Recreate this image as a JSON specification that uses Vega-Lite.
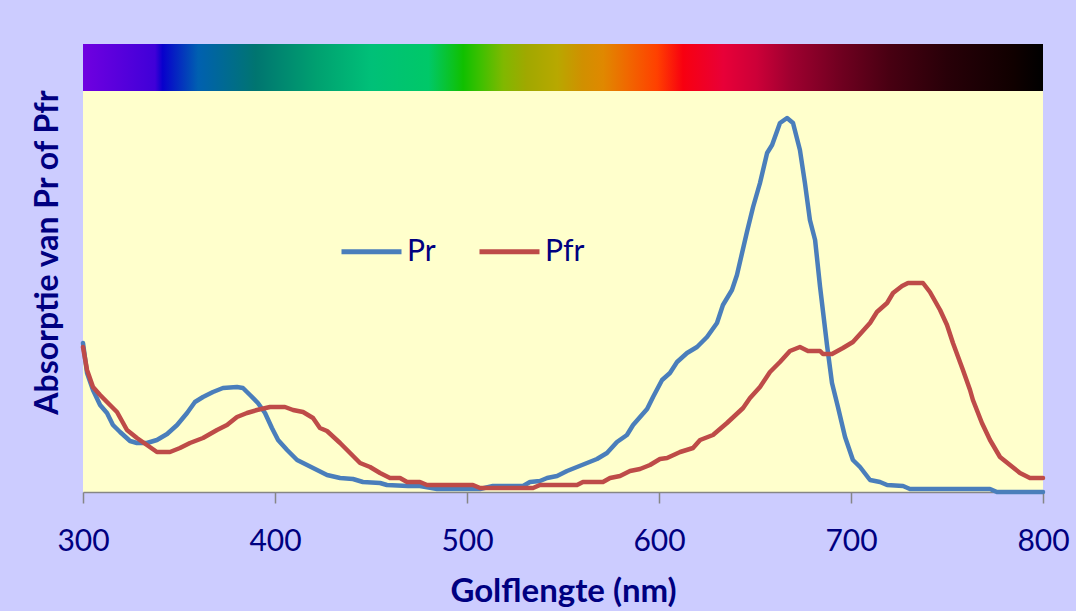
{
  "$schema": "https://vega.github.io/schema/vega-lite/v6.json",
  "width": 960,
  "height": 448,
  "autosize": "none",
  "padding": {"left": 83, "top": 44, "right": 33, "bottom": 119},
  "background": "#CCCCFF",
  "config": {
    "view": {"stroke": null, "fill": "#FFFFCC"},
    "font": "Lato"
  },
  "datasets": {
    "spectra": [
      {"nm": 300, "A": 149, "s": "Pr"}, {"nm": 302.1, "A": 119, "s": "Pr"}, {"nm": 305.2, "A": 102, "s": "Pr"}, {"nm": 308.9, "A": 87, "s": "Pr"},
      {"nm": 312.5, "A": 79, "s": "Pr"}, {"nm": 315.6, "A": 67, "s": "Pr"}, {"nm": 319.3, "A": 60, "s": "Pr"}, {"nm": 324.5, "A": 51, "s": "Pr"},
      {"nm": 328.1, "A": 49, "s": "Pr"}, {"nm": 333.3, "A": 49, "s": "Pr"}, {"nm": 338.5, "A": 52, "s": "Pr"}, {"nm": 343.8, "A": 58, "s": "Pr"},
      {"nm": 349, "A": 67, "s": "Pr"}, {"nm": 354.2, "A": 79, "s": "Pr"}, {"nm": 358.3, "A": 90, "s": "Pr"}, {"nm": 362.5, "A": 95, "s": "Pr"},
      {"nm": 367.7, "A": 100, "s": "Pr"}, {"nm": 372.9, "A": 104, "s": "Pr"}, {"nm": 380.2, "A": 105, "s": "Pr"}, {"nm": 383.3, "A": 104, "s": "Pr"},
      {"nm": 387, "A": 97, "s": "Pr"}, {"nm": 391.1, "A": 89, "s": "Pr"}, {"nm": 394.8, "A": 79, "s": "Pr"}, {"nm": 398.4, "A": 64, "s": "Pr"},
      {"nm": 401.6, "A": 52, "s": "Pr"}, {"nm": 406.3, "A": 42, "s": "Pr"}, {"nm": 411.5, "A": 32, "s": "Pr"}, {"nm": 416.7, "A": 27, "s": "Pr"},
      {"nm": 421.9, "A": 22, "s": "Pr"}, {"nm": 427.1, "A": 17, "s": "Pr"}, {"nm": 433.9, "A": 14, "s": "Pr"}, {"nm": 440.6, "A": 13, "s": "Pr"},
      {"nm": 445.8, "A": 10, "s": "Pr"}, {"nm": 454.7, "A": 9, "s": "Pr"}, {"nm": 458.3, "A": 7, "s": "Pr"}, {"nm": 469.3, "A": 6, "s": "Pr"},
      {"nm": 475.5, "A": 6, "s": "Pr"}, {"nm": 484.4, "A": 3, "s": "Pr"}, {"nm": 506.8, "A": 3, "s": "Pr"}, {"nm": 513.5, "A": 6, "s": "Pr"},
      {"nm": 529.2, "A": 6, "s": "Pr"}, {"nm": 532.8, "A": 10, "s": "Pr"}, {"nm": 538, "A": 11, "s": "Pr"}, {"nm": 541.7, "A": 14, "s": "Pr"},
      {"nm": 546.9, "A": 16, "s": "Pr"}, {"nm": 552.1, "A": 21, "s": "Pr"}, {"nm": 557.3, "A": 25, "s": "Pr"}, {"nm": 562.5, "A": 29, "s": "Pr"},
      {"nm": 567.7, "A": 33, "s": "Pr"}, {"nm": 572.9, "A": 39, "s": "Pr"}, {"nm": 578.1, "A": 50, "s": "Pr"}, {"nm": 583.3, "A": 57, "s": "Pr"},
      {"nm": 586.5, "A": 67, "s": "Pr"}, {"nm": 593.8, "A": 83, "s": "Pr"}, {"nm": 596.9, "A": 95, "s": "Pr"}, {"nm": 601.6, "A": 112, "s": "Pr"},
      {"nm": 605.7, "A": 119, "s": "Pr"}, {"nm": 609.4, "A": 130, "s": "Pr"}, {"nm": 614.6, "A": 139, "s": "Pr"}, {"nm": 619.8, "A": 145, "s": "Pr"},
      {"nm": 625, "A": 155, "s": "Pr"}, {"nm": 630.2, "A": 169, "s": "Pr"}, {"nm": 633.3, "A": 187, "s": "Pr"}, {"nm": 638, "A": 202, "s": "Pr"},
      {"nm": 640.6, "A": 217, "s": "Pr"}, {"nm": 645.8, "A": 260, "s": "Pr"}, {"nm": 649, "A": 285, "s": "Pr"}, {"nm": 652.6, "A": 309, "s": "Pr"},
      {"nm": 656.3, "A": 339, "s": "Pr"}, {"nm": 658.9, "A": 347, "s": "Pr"}, {"nm": 663, "A": 369, "s": "Pr"}, {"nm": 666.7, "A": 374, "s": "Pr"},
      {"nm": 669.8, "A": 369, "s": "Pr"}, {"nm": 673.4, "A": 342, "s": "Pr"}, {"nm": 676, "A": 309, "s": "Pr"}, {"nm": 678.6, "A": 272, "s": "Pr"},
      {"nm": 681.3, "A": 252, "s": "Pr"}, {"nm": 683.9, "A": 205, "s": "Pr"}, {"nm": 687.5, "A": 147, "s": "Pr"}, {"nm": 690.1, "A": 109, "s": "Pr"},
      {"nm": 693.2, "A": 85, "s": "Pr"}, {"nm": 696.9, "A": 55, "s": "Pr"}, {"nm": 701, "A": 32, "s": "Pr"}, {"nm": 704.7, "A": 25, "s": "Pr"},
      {"nm": 709.9, "A": 12, "s": "Pr"}, {"nm": 715.1, "A": 10, "s": "Pr"}, {"nm": 718.8, "A": 7, "s": "Pr"}, {"nm": 727.1, "A": 6, "s": "Pr"},
      {"nm": 730.7, "A": 3, "s": "Pr"}, {"nm": 772.4, "A": 3, "s": "Pr"}, {"nm": 776, "A": 0, "s": "Pr"}, {"nm": 800, "A": 0, "s": "Pr"},

      {"nm": 300, "A": 145, "s": "Pfr"}, {"nm": 302.1, "A": 122, "s": "Pfr"}, {"nm": 305.2, "A": 105, "s": "Pfr"}, {"nm": 308.9, "A": 97, "s": "Pfr"},
      {"nm": 312.5, "A": 90, "s": "Pfr"}, {"nm": 317.7, "A": 80, "s": "Pfr"}, {"nm": 322.9, "A": 62, "s": "Pfr"}, {"nm": 328.1, "A": 54, "s": "Pfr"},
      {"nm": 333.3, "A": 47, "s": "Pfr"}, {"nm": 338.5, "A": 40, "s": "Pfr"}, {"nm": 345.3, "A": 40, "s": "Pfr"}, {"nm": 350.5, "A": 44, "s": "Pfr"},
      {"nm": 355.7, "A": 49, "s": "Pfr"}, {"nm": 362.5, "A": 54, "s": "Pfr"}, {"nm": 369.8, "A": 62, "s": "Pfr"}, {"nm": 375, "A": 67, "s": "Pfr"},
      {"nm": 380.2, "A": 75, "s": "Pfr"}, {"nm": 385.4, "A": 79, "s": "Pfr"}, {"nm": 390.6, "A": 82, "s": "Pfr"}, {"nm": 397.4, "A": 85, "s": "Pfr"},
      {"nm": 405.2, "A": 85, "s": "Pfr"}, {"nm": 409.4, "A": 82, "s": "Pfr"}, {"nm": 414.6, "A": 80, "s": "Pfr"}, {"nm": 419.8, "A": 74, "s": "Pfr"},
      {"nm": 423.4, "A": 64, "s": "Pfr"}, {"nm": 427.1, "A": 61, "s": "Pfr"}, {"nm": 433.9, "A": 49, "s": "Pfr"}, {"nm": 439.1, "A": 39, "s": "Pfr"},
      {"nm": 444.3, "A": 29, "s": "Pfr"}, {"nm": 449.5, "A": 25, "s": "Pfr"}, {"nm": 454.7, "A": 19, "s": "Pfr"}, {"nm": 459.9, "A": 14, "s": "Pfr"},
      {"nm": 465.1, "A": 14, "s": "Pfr"}, {"nm": 468.8, "A": 10, "s": "Pfr"}, {"nm": 475.5, "A": 10, "s": "Pfr"}, {"nm": 479.2, "A": 7, "s": "Pfr"},
      {"nm": 503.1, "A": 7, "s": "Pfr"}, {"nm": 506.8, "A": 4, "s": "Pfr"}, {"nm": 534.4, "A": 4, "s": "Pfr"}, {"nm": 538, "A": 7, "s": "Pfr"},
      {"nm": 557.3, "A": 7, "s": "Pfr"}, {"nm": 560.4, "A": 10, "s": "Pfr"}, {"nm": 570.8, "A": 10, "s": "Pfr"}, {"nm": 574.5, "A": 14, "s": "Pfr"},
      {"nm": 579.7, "A": 16, "s": "Pfr"}, {"nm": 584.9, "A": 21, "s": "Pfr"}, {"nm": 590.1, "A": 23, "s": "Pfr"}, {"nm": 595.3, "A": 27, "s": "Pfr"},
      {"nm": 600.5, "A": 33, "s": "Pfr"}, {"nm": 604.2, "A": 34, "s": "Pfr"}, {"nm": 611, "A": 40, "s": "Pfr"}, {"nm": 617.7, "A": 44, "s": "Pfr"},
      {"nm": 621.4, "A": 52, "s": "Pfr"}, {"nm": 628.1, "A": 57, "s": "Pfr"}, {"nm": 635.4, "A": 69, "s": "Pfr"}, {"nm": 643.8, "A": 84, "s": "Pfr"},
      {"nm": 647.4, "A": 94, "s": "Pfr"}, {"nm": 652.6, "A": 105, "s": "Pfr"}, {"nm": 657.8, "A": 120, "s": "Pfr"}, {"nm": 663, "A": 130, "s": "Pfr"},
      {"nm": 668.2, "A": 141, "s": "Pfr"}, {"nm": 673.4, "A": 145, "s": "Pfr"}, {"nm": 677.6, "A": 141, "s": "Pfr"}, {"nm": 683.9, "A": 141, "s": "Pfr"},
      {"nm": 685.4, "A": 138, "s": "Pfr"}, {"nm": 690.1, "A": 138, "s": "Pfr"}, {"nm": 695.8, "A": 144, "s": "Pfr"}, {"nm": 701, "A": 150, "s": "Pfr"},
      {"nm": 705.7, "A": 160, "s": "Pfr"}, {"nm": 709.9, "A": 169, "s": "Pfr"}, {"nm": 713.5, "A": 180, "s": "Pfr"}, {"nm": 718.8, "A": 189, "s": "Pfr"},
      {"nm": 721.9, "A": 199, "s": "Pfr"}, {"nm": 726.6, "A": 206, "s": "Pfr"}, {"nm": 729.7, "A": 209, "s": "Pfr"}, {"nm": 737.5, "A": 209, "s": "Pfr"},
      {"nm": 741.1, "A": 200, "s": "Pfr"}, {"nm": 746.4, "A": 182, "s": "Pfr"}, {"nm": 750, "A": 167, "s": "Pfr"}, {"nm": 753.1, "A": 149, "s": "Pfr"},
      {"nm": 758.3, "A": 122, "s": "Pfr"}, {"nm": 762, "A": 102, "s": "Pfr"}, {"nm": 763.5, "A": 92, "s": "Pfr"}, {"nm": 768.2, "A": 69, "s": "Pfr"},
      {"nm": 772.4, "A": 52, "s": "Pfr"}, {"nm": 777.6, "A": 35, "s": "Pfr"}, {"nm": 782.8, "A": 27, "s": "Pfr"}, {"nm": 788, "A": 19, "s": "Pfr"},
      {"nm": 793.2, "A": 14, "s": "Pfr"}, {"nm": 800, "A": 14, "s": "Pfr"}
    ],
    "band": [{"from": 300, "to": 800, "lo": 401, "hi": 448}]
  },
  "layer": [
    {
      "data": {"name": "band"},
      "mark": {
        "type": "rect",
        "fill": {
          "gradient": "linear", "x1": 0, "y1": 0, "x2": 1, "y2": 0,
          "stops": [
            {"offset": 0, "color": "#7000E0"},
            {"offset": 0.075, "color": "#4000D8"},
            {"offset": 0.083, "color": "#0800CC"},
            {"offset": 0.12, "color": "#0060B0"},
            {"offset": 0.18, "color": "#007570"},
            {"offset": 0.243, "color": "#00A070"},
            {"offset": 0.30, "color": "#00C078"},
            {"offset": 0.36, "color": "#00C868"},
            {"offset": 0.396, "color": "#10C000"},
            {"offset": 0.415, "color": "#40C000"},
            {"offset": 0.438, "color": "#80B800"},
            {"offset": 0.462, "color": "#A0A800"},
            {"offset": 0.494, "color": "#B8A800"},
            {"offset": 0.52, "color": "#D09000"},
            {"offset": 0.542, "color": "#E08800"},
            {"offset": 0.567, "color": "#F06800"},
            {"offset": 0.598, "color": "#FF4000"},
            {"offset": 0.625, "color": "#F80010"},
            {"offset": 0.667, "color": "#E80038"},
            {"offset": 0.702, "color": "#CC0038"},
            {"offset": 0.736, "color": "#A00030"},
            {"offset": 0.789, "color": "#700020"},
            {"offset": 0.84, "color": "#480012"},
            {"offset": 0.9, "color": "#280008"},
            {"offset": 0.969, "color": "#100000"},
            {"offset": 1, "color": "#000000"}
          ]
        }
      },
      "encoding": {
        "x": {"field": "from", "type": "quantitative"},
        "x2": {"field": "to"},
        "y": {"field": "lo", "type": "quantitative"},
        "y2": {"field": "hi"}
      }
    },
    {
      "data": {"name": "spectra"},
      "mark": {"type": "line", "strokeWidth": 4.5, "strokeJoin": "round", "strokeCap": "round"},
      "encoding": {
        "x": {
          "field": "nm", "type": "quantitative",
          "scale": {"domain": [300, 800], "nice": false, "zero": false},
          "axis": {
            "title": "Golflengte (nm)",
            "values": [300, 400, 500, 600, 700, 800],
            "grid": false,
            "labelFlush": false,
            "domainColor": "#868686", "domainWidth": 1.5,
            "tickColor": "#868686", "tickWidth": 1.5, "tickSize": 11,
            "labelFont": "Lato", "labelFontSize": 30, "labelColor": "#000080", "labelPadding": 23,
            "titleFont": "Lato", "titleFontSize": 33, "titleFontWeight": "bold", "titleColor": "#000080",
            "titleBaseline": "alphabetic", "titleY": 109
          }
        },
        "y": {
          "field": "A", "type": "quantitative",
          "scale": {"domain": [0, 448], "nice": false},
          "axis": {
            "title": "Absorptie van Pr of Pfr",
            "labels": false, "ticks": false, "domain": false, "grid": false,
            "titleFont": "Lato", "titleFontSize": 32, "titleFontWeight": "bold", "titleColor": "#000080",
            "titleBaseline": "alphabetic", "titleAngle": -90, "titleAlign": "center",
            "titleX": -26, "titleY": 208
          }
        },
        "color": {
          "field": "s", "type": "nominal",
          "scale": {"domain": ["Pr", "Pfr"], "range": ["#4A7EBB", "#BE4B48"]},
          "legend": {
            "title": null,
            "orient": "none",
            "direction": "horizontal",
            "legendX": 256,
            "legendY": 175,
            "padding": 0,
            "symbolType": "stroke",
            "symbolSize": 3600,
            "symbolStrokeWidth": 5,
            "labelFont": "Lato", "labelFontSize": 30, "labelColor": "#000080",
            "labelOffset": 3,
            "columnPadding": 33
          }
        }
      }
    }
  ]
}
